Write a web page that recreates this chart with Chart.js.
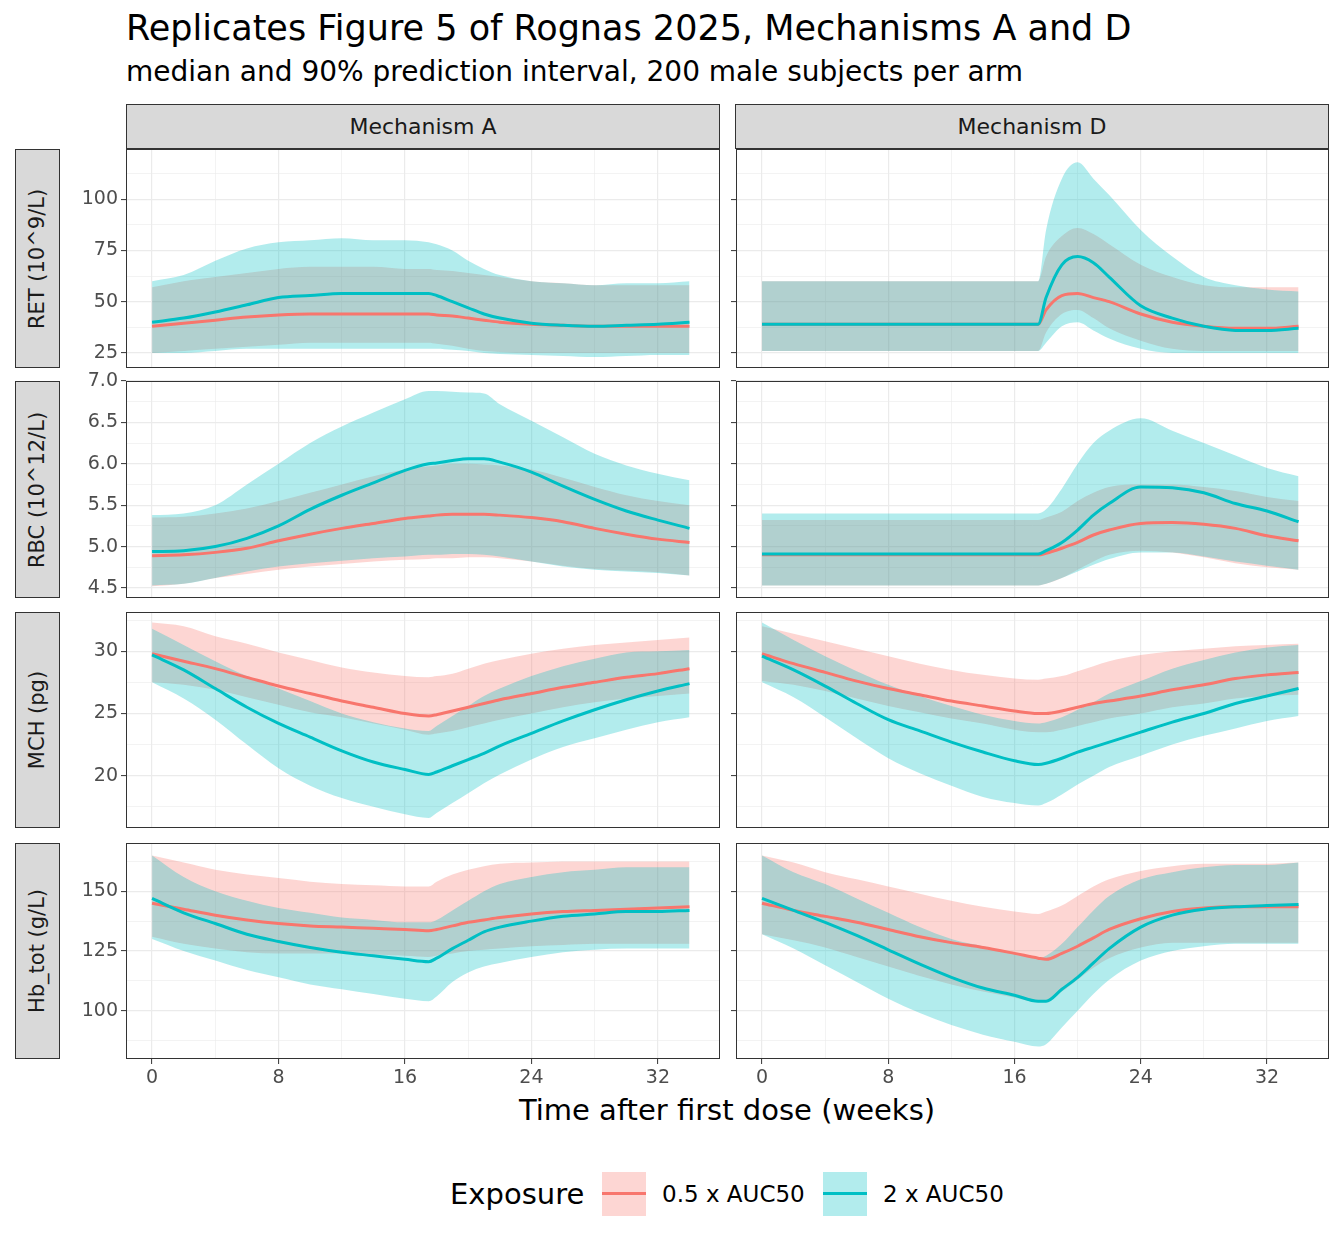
<!DOCTYPE html>
<html><head><meta charset="utf-8">
<script src="https://cdn.jsdelivr.net/npm/chart.js@4"></script>
<style>
body{margin:0;width:1344px;height:1248px;background:#fff;font-family:"DejaVu Sans",sans-serif;position:relative;overflow:hidden}
.abs{position:absolute;white-space:nowrap}
.strip{position:absolute;background:#D9D9D9;border:1px solid #333;box-sizing:border-box;display:flex;align-items:center;justify-content:center;font-size:21px;color:#1A1A1A}
.vs span{transform:rotate(-90deg);white-space:nowrap}
canvas{position:absolute}
</style></head><body>
<div class="abs" style="left:126px;top:8px;font-size:35px;color:#000">Replicates Figure 5 of Rognas 2025, Mechanisms A and D</div>
<div class="abs" style="left:126px;top:55px;font-size:28px;color:#000">median and 90% prediction interval, 200 male subjects per arm</div>
<div class="strip" style="left:126px;top:104px;width:594px;height:45px;font-size:22px">Mechanism A</div>
<div class="strip" style="left:735px;top:104px;width:594px;height:45px;font-size:22px">Mechanism D</div>
<div class="abs" style="left:0;width:1454px;top:1093px;text-align:center;font-size:29px;color:#000">Time after first dose (weeks)</div>
<div class="abs" style="left:450px;top:1177px;font-size:29px">Exposure</div>
<div class="abs" style="left:602px;top:1172px;width:44px;height:44px;background:rgba(248,118,109,0.3)"><div style="position:absolute;left:0;right:0;top:20px;height:3px;background:#F8766D"></div></div>
<div class="abs" style="left:662px;top:1181px;font-size:23px">0.5 x AUC50</div>
<div class="abs" style="left:823px;top:1172px;width:44px;height:44px;background:rgba(0,191,196,0.3)"><div style="position:absolute;left:0;right:0;top:20px;height:3px;background:#00BFC4"></div></div>
<div class="abs" style="left:883px;top:1181px;font-size:23px">2 x AUC50</div>
<script>
const t = [0,2,4,6,8,10,12,14,16,17.5,18,19,20,21,22,24,26,28,30,32,34];
const xTicks = [0,8,16,24,32];
const rowLabels = ["RET (10^9/L)","RBC (10^12/L)","MCH (pg)","Hb_tot (g/L)"];
const colLabels = ["Mechanism A","Mechanism D"];
const seriesNames = ["0.5 x AUC50","2 x AUC50"];

// RET Mechanism A
const retA_r_med=[38,39.5,41,42.5,43.5,44,44,44,44,44,43.5,43,42,41,40,39,38.5,38,38,38,38];
const retA_r_lo=[25,26,27,28,29,30,30,30,30,30,29.5,28.5,27,26,25.5,25,25,25,25,25,25];
const retA_r_hi=[57,60,62,64,66,67,67,67,66,66,65.5,65,64,63,62,60,59,58,58,58,58];
const retA_t_med=[40,42,45,48.5,52,53,54,54,54,54,53,50,47,44,42,39.5,38.5,38,38.5,39,40];
const retA_t_lo=[25,25,26,27,27,27,27,27,27,27,27,26.5,26,25,24.5,24,23.5,23,23.5,24,24];
const retA_t_hi=[60,63,70,76,79,80,81,80,80,79,78,75,70,66,63,60,59,58,59,59,60];
// RET Mechanism D
const retD_r_med=[39,39,39,39,39,39,39,39,39,39,46,53,54,52,50,44,40,38,37,37,38];
const retD_r_lo=[26,26,26,26,26,26,26,26,26,26,35,44,46,42,37,31,27,26,26,26,26];
const retD_r_hi=[60,60,60,60,60,60,60,60,60,60,72,82,86,83,78,68,62,58,57,57,57];
const retD_t_med=[39,39,39,39,39,39,39,39,39,39,52,68,72,69,62,48,42,38,36,36,37];
const retD_t_lo=[26,26,26,26,26,26,26,26,26,26,30,38,40,36,32,27,25,25,25,25,25];
const retD_t_hi=[60,60,60,60,60,60,60,60,60,60,85,110,118,110,102,85,72,62,58,56,55];
// RBC Mechanism A
const rbcA_r_med=[4.89,4.90,4.93,4.98,5.07,5.15,5.22,5.28,5.34,5.37,5.38,5.39,5.39,5.39,5.38,5.35,5.30,5.22,5.15,5.09,5.05];
const rbcA_r_lo=[4.52,4.55,4.62,4.67,4.72,4.76,4.79,4.82,4.84,4.85,4.86,4.86,4.87,4.87,4.86,4.82,4.77,4.73,4.71,4.69,4.65];
const rbcA_r_hi=[5.35,5.36,5.40,5.46,5.55,5.65,5.75,5.85,5.93,5.97,5.98,6.00,6.00,5.99,5.98,5.93,5.83,5.72,5.62,5.55,5.50];
const rbcA_t_med=[4.94,4.95,5.00,5.10,5.25,5.45,5.62,5.77,5.92,6.00,6.01,6.04,6.06,6.06,6.02,5.90,5.73,5.57,5.43,5.32,5.22];
const rbcA_t_lo=[4.53,4.55,4.62,4.70,4.76,4.80,4.83,4.86,4.88,4.90,4.90,4.91,4.91,4.90,4.88,4.82,4.76,4.72,4.70,4.68,4.65];
const rbcA_t_hi=[5.38,5.40,5.50,5.75,6.00,6.25,6.45,6.62,6.78,6.88,6.88,6.87,6.86,6.85,6.72,6.52,6.32,6.12,5.98,5.88,5.80];
// RBC Mechanism D
const rbcD_r_med=[4.90,4.90,4.90,4.90,4.90,4.90,4.90,4.90,4.90,4.90,4.92,4.98,5.05,5.14,5.20,5.28,5.29,5.27,5.22,5.13,5.07];
const rbcD_r_lo=[4.53,4.53,4.53,4.53,4.53,4.53,4.53,4.53,4.53,4.53,4.55,4.62,4.72,4.82,4.90,4.95,4.93,4.87,4.80,4.75,4.72];
const rbcD_r_hi=[5.32,5.32,5.32,5.32,5.32,5.32,5.32,5.32,5.32,5.32,5.35,5.42,5.55,5.65,5.72,5.75,5.75,5.72,5.67,5.60,5.55];
const rbcD_t_med=[4.91,4.91,4.91,4.91,4.91,4.91,4.91,4.91,4.91,4.91,4.95,5.05,5.20,5.38,5.52,5.72,5.71,5.65,5.52,5.43,5.30];
const rbcD_t_lo=[4.53,4.53,4.53,4.53,4.53,4.53,4.53,4.53,4.53,4.53,4.55,4.62,4.70,4.78,4.85,4.93,4.93,4.88,4.82,4.77,4.72];
const rbcD_t_hi=[5.40,5.40,5.40,5.40,5.40,5.40,5.40,5.40,5.40,5.40,5.45,5.70,6.00,6.25,6.40,6.55,6.40,6.25,6.10,5.95,5.85];
// MCH Mechanism A
const mchA_r_med=[29.8,29.2,28.6,27.9,27.2,26.6,26.0,25.5,25.0,24.8,24.9,25.2,25.5,25.8,26.1,26.6,27.1,27.5,27.9,28.2,28.6];
const mchA_r_lo=[27.5,27.3,26.9,26.3,25.7,25.1,24.7,24.2,23.7,23.3,23.4,23.6,23.9,24.2,24.5,25.0,25.5,25.9,26.2,26.4,26.6];
const mchA_r_hi=[32.3,32.0,31.2,30.6,29.9,29.3,28.7,28.3,28.0,27.9,28.0,28.2,28.6,29.0,29.3,29.8,30.2,30.5,30.7,30.9,31.1];
const mchA_t_med=[29.7,28.5,27.0,25.5,24.2,23.1,22.0,21.1,20.5,20.1,20.3,20.8,21.3,21.8,22.4,23.4,24.4,25.3,26.1,26.8,27.4];
const mchA_t_lo=[27.5,26.2,24.5,22.5,20.6,19.2,18.2,17.5,16.9,16.6,17.0,17.8,18.6,19.4,20.1,21.3,22.3,23.0,23.7,24.3,24.7];
const mchA_t_hi=[31.8,30.5,29.2,28.0,27.0,26.0,25.0,24.3,23.8,23.6,24.0,24.8,25.6,26.4,27.0,28.0,28.8,29.4,29.9,30.0,30.1];
// MCH Mechanism D
const mchD_r_med=[29.8,29.0,28.3,27.6,27.0,26.5,26.0,25.6,25.2,25.0,25.0,25.2,25.5,25.8,26.0,26.4,26.9,27.3,27.8,28.1,28.3];
const mchD_r_lo=[27.6,27.3,26.8,26.2,25.6,25.1,24.6,24.2,23.7,23.5,23.5,23.7,24.0,24.3,24.6,25.0,25.5,25.8,26.2,26.4,26.5];
const mchD_r_hi=[32.0,31.4,30.8,30.2,29.6,29.0,28.5,28.1,27.8,27.7,27.8,28.0,28.4,28.8,29.2,29.7,30.0,30.2,30.4,30.5,30.6];
const mchD_t_med=[29.6,28.5,27.2,25.8,24.5,23.6,22.7,21.9,21.2,20.9,21.0,21.4,21.9,22.3,22.7,23.5,24.3,25.0,25.8,26.4,27.0];
const mchD_t_lo=[27.5,26.3,24.7,23.0,21.4,20.2,19.2,18.3,17.8,17.6,17.8,18.5,19.3,20.0,20.7,21.6,22.5,23.2,23.8,24.4,24.8];
const mchD_t_hi=[32.3,30.9,29.6,28.4,27.3,26.4,25.6,24.9,24.4,24.2,24.3,24.7,25.3,25.9,26.6,27.6,28.6,29.3,29.9,30.3,30.5];
// Hb_tot Mechanism A
const hbA_r_med=[145,142.5,140,138,136.5,135.5,135,134.5,134,133.5,134,135.5,137,138,139,140.5,141.5,142,142.5,143,143.5];
const hbA_r_lo=[131,128,126,124.5,124,124,124,123.5,123,122.5,123,124,125,125.5,126,127,127.5,128,128,128,128];
const hbA_r_hi=[165,162,159,157,155.5,154,153,152.5,152,152,154,157,159,160.5,161.5,162,162.5,162.5,162.5,162.5,162.5];
const hbA_t_med=[147,141,136.5,132,129,126.5,124.5,123,121.5,120.5,122,126,129.5,133,135,137.5,139.5,140.5,141.5,141.5,142];
const hbA_t_lo=[130,125,121,117,114,111,109,107,105,104,106,112,116,118.5,120,122.5,124.5,125.5,126,126,126];
const hbA_t_hi=[165,156,150,146,143,141,139,138,137,137,138,142,146,150,153,156,158,159,160,160,160];
// Hb_tot Mechanism D
const hbD_r_med=[145,142,139.5,137,134,131,128.5,126.5,124,122,121.5,124,127,130.5,134,138.5,141.5,143,143.5,143.5,143.5];
const hbD_r_lo=[132,129.5,126.5,122.5,118.5,114.5,111,108,105.5,103.5,104,108,113,118,122,126.5,128.5,128.5,128.5,128.5,128.5];
const hbD_r_hi=[165,162,158,155,152,149,146,143.5,141.5,140.5,141.5,144,148,152,155,158.5,160.5,161.5,161.5,161.5,162];
const hbD_t_med=[147,142,137,131.5,125.5,119.5,114,109.5,106.5,104,104,109,114,120,126,135,140,142.5,143.5,144,144.5];
const hbD_t_lo=[132,126,119,112,105,99,94,90,87,85,86,93,100,107,113,121,125,127,128,128,128];
const hbD_t_hi=[165,158,153,147,141,135,130,127,124,122,123,128,135,142,148,155,158,160,161,161,162];

const yMajor = [[25,50,75,100],[4.5,5.0,5.5,6.0,6.5,7.0],[20,25,30],[100,125,150]];
const yMinor = [[37.5,62.5,87.5,112.5],[4.75,5.25,5.75,6.25,6.75],[17.5,22.5,27.5,32.5],[87.5,112.5,137.5,162.5]];
const xMinor = [4,12,20,28];
const yRange = [[17.65,124.5],[4.379,7.0],[15.8,33.15],[79.8,170.2]];
const yDigits = [0,1,0,0];

const panels = [
 [[retA_r_lo,retA_r_hi,retA_r_med,retA_t_lo,retA_t_hi,retA_t_med],[retD_r_lo,retD_r_hi,retD_r_med,retD_t_lo,retD_t_hi,retD_t_med]],
 [[rbcA_r_lo,rbcA_r_hi,rbcA_r_med,rbcA_t_lo,rbcA_t_hi,rbcA_t_med],[rbcD_r_lo,rbcD_r_hi,rbcD_r_med,rbcD_t_lo,rbcD_t_hi,rbcD_t_med]],
 [[mchA_r_lo,mchA_r_hi,mchA_r_med,mchA_t_lo,mchA_t_hi,mchA_t_med],[mchD_r_lo,mchD_r_hi,mchD_r_med,mchD_t_lo,mchD_t_hi,mchD_t_med]],
 [[hbA_r_lo,hbA_r_hi,hbA_r_med,hbA_t_lo,hbA_t_hi,hbA_t_med],[hbD_r_lo,hbD_r_hi,hbD_r_med,hbD_t_lo,hbD_t_hi,hbD_t_med]]
];

const rowTop=[149,381,612,843], rowBot=[367,597,827,1058];
const colLeft=[126,736], colRight=[719,1328];
const RED='#F8766D', TEAL='#00BFC4', REDF='rgba(248,118,109,0.3)', TEALF='rgba(0,191,196,0.3)';
const PAD=14;

const frame = {id:'frame',afterDraw(c){const a=c.chartArea,g=c.ctx;g.save();g.strokeStyle='#333';g.lineWidth=1;g.strokeRect(Math.round(a.left)+0.5,Math.round(a.top)+0.5,Math.round(a.right-a.left)-1,Math.round(a.bottom-a.top)-1);g.restore();}};

function pts(arr){return arr.map((v,i)=>({x:t[i],y:v}));}
function zeroPad(s){s.paddingTop=0;s.paddingBottom=0;s.paddingLeft=0;s.paddingRight=0;}

for(let r=0;r<4;r++){
  const s=document.createElement('div');s.className='strip vs';
  s.style.cssText=`left:15px;top:${rowTop[r]}px;width:45px;height:${rowBot[r]-rowTop[r]+1}px`;
  s.innerHTML=`<span>${rowLabels[r]}</span>`;document.body.appendChild(s);
  for(let c=0;c<2;c++){
    const yW = c===0?67:6;
    const bottom = r===3;
    const xH = bottom?36:0;
    const botPad = bottom?0:PAD;
    const W=colRight[c]-colLeft[c]+1+yW+PAD, H=rowBot[r]-rowTop[r]+1+xH+PAD+botPad;
    const wrap=document.createElement('div');
    wrap.style.cssText=`position:absolute;left:${colLeft[c]-yW}px;top:${rowTop[r]-PAD}px;width:${W}px;height:${H}px`;
    const cv=document.createElement('canvas');
    cv.style.left='0';cv.style.top='0';cv.style.width=W+'px';cv.style.height=H+'px';
    wrap.appendChild(cv);document.body.appendChild(wrap);
    const d=panels[r][c];
    const common={pointRadius:0,cubicInterpolationMode:'monotone'};
    const ds=[
      {data:pts(d[0]),borderWidth:0,fill:false,order:4,...common},
      {data:pts(d[1]),borderWidth:0,fill:'-1',backgroundColor:REDF,order:4,...common},
      {data:pts(d[3]),borderWidth:0,fill:false,order:3,...common},
      {data:pts(d[4]),borderWidth:0,fill:'-1',backgroundColor:TEALF,order:3,...common},
      {label:seriesNames[0],data:pts(d[2]),borderColor:RED,borderWidth:3,fill:false,order:2,...common},
      {label:seriesNames[1],data:pts(d[5]),borderColor:TEAL,borderWidth:3,fill:false,order:1,...common}
    ];
    const gridW = ctx=>ctx.tick&&ctx.tick.minor?0.6:1.2;
    new Chart(cv,{type:'line',data:{datasets:ds},plugins:[frame],
      options:{responsive:false,animation:false,devicePixelRatio:1,
        layout:{padding:{top:PAD,right:PAD,left:0,bottom:botPad}},
        plugins:{legend:{display:false},tooltip:{enabled:false}},
        scales:{
          x:{type:'linear',min:-1.65,max:35.93,
            afterBuildTicks:s=>{s.ticks=xTicks.map(v=>({value:v})).concat(xMinor.map(v=>({value:v,minor:true})));},
            afterFit:s=>{s.height=xH;zeroPad(s);},
            border:{display:false},
            grid:{color:'#EBEBEB',lineWidth:gridW,drawTicks:bottom,tickLength:5,tickColor:ctx=>ctx.tick&&ctx.tick.minor?'rgba(0,0,0,0)':'#333',tickWidth:1},
            ticks:{display:bottom,autoSkip:false,maxRotation:0,padding:3,color:'#4D4D4D',font:{family:'DejaVu Sans',size:19},
              callback:(v,i,tk)=>tk[i].minor?'':String(v)}},
          y:{type:'linear',min:yRange[r][0],max:yRange[r][1],
            afterBuildTicks:s=>{s.ticks=yMajor[r].map(v=>({value:v})).concat(yMinor[r].filter(v=>v>yRange[r][0]&&v<yRange[r][1]).map(v=>({value:v,minor:true})));},
            afterFit:s=>{s.width=yW;zeroPad(s);},
            border:{display:false},
            grid:{color:'#EBEBEB',lineWidth:gridW,drawTicks:true,tickLength:5,tickColor:ctx=>ctx.tick&&ctx.tick.minor?'rgba(0,0,0,0)':'#333',tickWidth:1},
            ticks:{display:c===0,autoSkip:false,padding:3,color:'#4D4D4D',font:{family:'DejaVu Sans',size:19},
              callback:(v,i,tk)=>tk[i].minor?'':Number(v).toFixed(yDigits[r])}}
        }}});
  }
}
</script>
</body></html>
